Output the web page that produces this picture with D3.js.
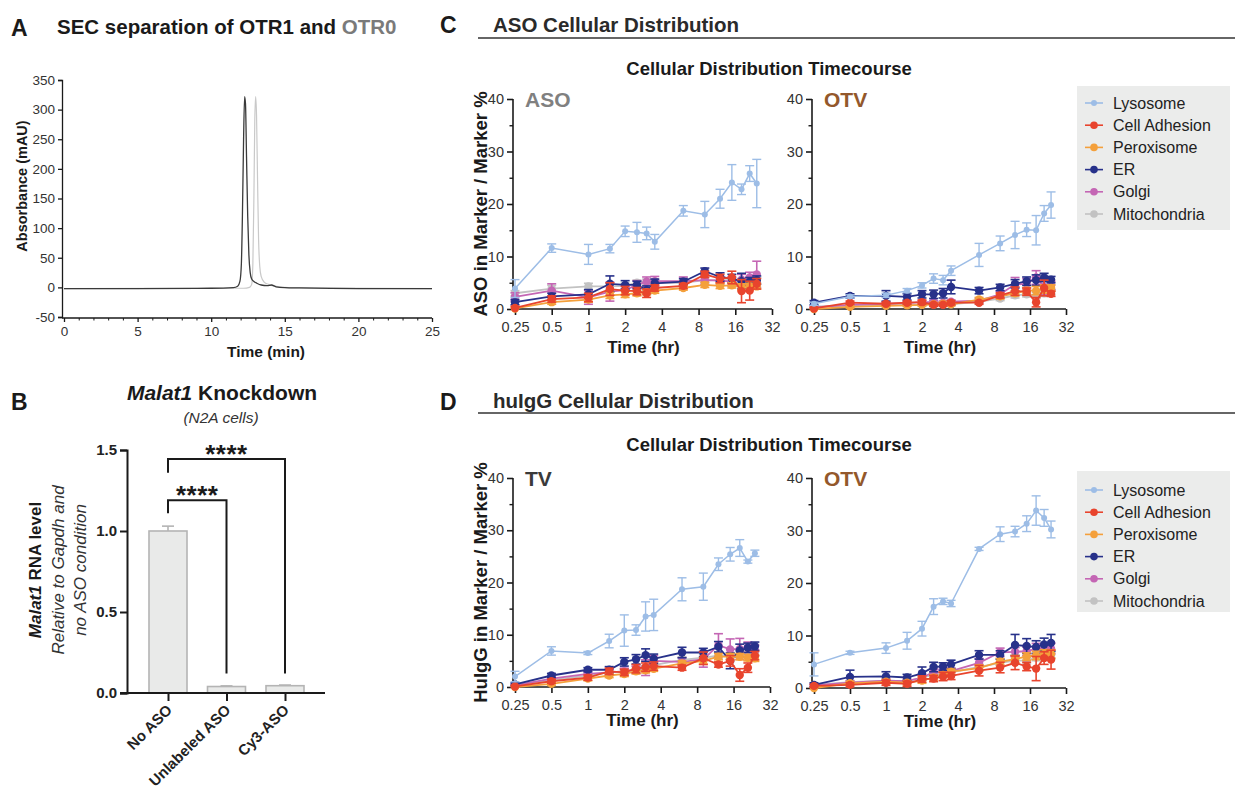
<!DOCTYPE html>
<html>
<head>
<meta charset="utf-8">
<script src="https://cdn.jsdelivr.net/npm/d3@7"></script>
<style>
  body { margin: 0; background: #fff; }
  svg { font-family: "Liberation Sans", Arial, Helvetica, sans-serif; }
</style>
</head>
<body>
<svg id="fig" width="1235" height="797"></svg>
<script>
// ---- panel A: SEC traces (time in min, absorbance in mAU)
const secTimeOTR1 = [0, 5, 10, 11.5, 11.8, 11.95, 12.05, 12.12, 12.2, 12.27, 12.33, 12.4, 12.48, 12.56, 12.65, 12.75, 12.9, 13.1, 13.4, 13.8, 14.1, 14.4, 15, 16, 20, 25];
const secAbsOTR1  = [-2, -2, -1.5, -0.5, 2, 10, 40, 120, 250, 322, 310, 220, 120, 55, 25, 14, 10, 7, 4, 3, 4, 1, -0.5, -1, -2, -2];
const secTimeOTR0 = [0, 10, 12.2, 12.6, 12.75, 12.83, 12.9, 12.96, 13.02, 13.08, 13.15, 13.22, 13.3, 13.4, 13.6, 13.9, 14.3, 15, 16, 25];
const secAbsOTR0  = [-2, -1.5, -1.5, 0, 5, 40, 150, 280, 322, 290, 180, 80, 35, 18, 9, 5, 2, 0, -1, -2];

// ---- panel B: Malat1 knockdown
const kdCats = ["No ASO", "Unlabeled ASO", "Cy3-ASO"];
const kdVals = [1.0, 0.04, 0.045];
const kdErr  = [0.03, 0.004, 0.004];

// ---- panels C / D: timecourse
const hours = [0.25, 0.5, 1, 1.5, 2, 2.5, 3, 3.5, 6, 9, 12, 15, 18, 21, 24];
const markerNames  = ["Lysosome", "Cell Adhesion", "Peroxisome", "ER", "Golgi", "Mitochondria"];
const markerColors = ["#9dbde6", "#e8442d", "#f4a03b", "#27318a", "#c466b4", "#c2c2c2"];

// C left: ASO
const asoLyso    = [3.9, 11.6, 10.4, 11.5, 14.8, 14.6, 14.4, 12.8, 18.7, 18.0, 21.0, 24.1, 22.8, 25.8, 23.9];
const asoLysoErr = [1.7, 0.8, 1.9, 0.8, 1.0, 1.9, 1.2, 1.4, 1.0, 2.5, 1.8, 3.4, 1.0, 1.5, 4.6];
const asoAdh     = [0.2, 1.9, 2.2, 3.8, 3.5, 3.4, 3.0, 4.0, 4.4, 6.6, 5.8, 6.0, 3.4, 3.5, 4.8];
const asoAdhErr  = [0.3, 0.6, 0.8, 1.2, 0.8, 0.7, 0.8, 0.6, 0.5, 0.6, 0.8, 1.2, 2.2, 1.8, 1.0];
const asoPer     = [0.1, 1.3, 1.8, 2.6, 2.8, 3.0, 3.2, 3.5, 4.0, 4.6, 4.4, 4.5, 4.2, 4.3, 4.3];
const asoPerErr  = [0.2, 0.4, 0.5, 0.6, 0.6, 0.5, 0.5, 0.5, 0.4, 0.5, 0.5, 0.5, 0.6, 0.6, 0.5];
const asoER      = [1.3, 2.4, 2.8, 4.8, 4.6, 4.6, 3.6, 4.9, 5.2, 7.2, 6.1, 5.8, 5.3, 5.2, 5.5];
const asoERErr   = [0.5, 0.6, 0.9, 1.5, 0.8, 0.7, 0.8, 0.8, 0.6, 0.6, 0.8, 0.8, 1.5, 0.8, 0.8];
const asoGol     = [2.3, 3.5, 2.2, 3.3, 3.6, 4.6, 5.2, 5.3, 5.3, 5.5, 5.4, 5.2, 5.6, 6.0, 6.6];
const asoGolErr  = [0.8, 1.3, 1.3, 1.8, 0.9, 0.8, 0.9, 0.9, 0.8, 0.8, 0.8, 0.9, 1.0, 1.0, 2.5];
const asoMit     = [3.0, 3.9, 4.3, 4.3, 4.4, 5.0, 5.2, 5.0, 5.0, 5.5, 5.5, 5.5, 5.3, 5.5, 5.5];
const asoMitErr  = [0.5, 0.6, 0.6, 0.6, 0.5, 0.5, 0.5, 0.5, 0.5, 0.5, 0.5, 0.5, 0.5, 0.5, 0.5];

// C right: OTV (ASO)
const otvaLyso    = [1.0, 2.4, 2.6, 3.5, 4.5, 5.8, 5.5, 7.3, 10.3, 12.5, 14.1, 15.1, 15.0, 18.2, 19.8];
const otvaLysoErr = [0.3, 0.3, 0.4, 0.4, 0.5, 0.9, 0.9, 0.9, 2.2, 1.4, 2.6, 1.3, 2.8, 1.5, 2.5];
const otvaAdh     = [0.1, 1.2, 1.0, 1.2, 1.3, 0.8, 0.8, 1.2, 1.2, 2.6, 3.4, 3.3, 1.3, 4.0, 2.9];
const otvaAdhErr  = [0.2, 0.3, 0.3, 0.3, 0.4, 0.3, 0.3, 0.4, 0.3, 0.5, 0.8, 0.7, 0.9, 1.5, 0.5];
const otvaPer     = [0.0, 0.4, 0.6, 0.7, 0.8, 0.9, 1.0, 0.9, 1.8, 2.4, 3.0, 3.5, 3.5, 3.8, 4.0];
const otvaPerErr  = [0.1, 0.2, 0.2, 0.2, 0.2, 0.2, 0.3, 0.3, 0.4, 0.5, 0.5, 0.6, 0.8, 0.8, 0.6];
const otvaER      = [1.2, 2.5, 2.5, 2.3, 2.8, 2.8, 3.0, 4.2, 3.5, 4.1, 4.8, 5.3, 5.5, 6.0, 5.6];
const otvaERErr   = [0.4, 0.4, 1.0, 0.6, 0.7, 0.8, 0.9, 1.3, 0.6, 0.6, 0.8, 0.8, 1.0, 0.8, 0.6];
const otvaGol     = [0.3, 0.8, 1.0, 1.1, 1.3, 1.3, 1.2, 1.4, 1.6, 2.8, 4.7, 4.8, 6.0, 4.2, 4.5];
const otvaGolErr  = [0.2, 0.3, 0.3, 0.3, 0.3, 0.3, 0.3, 0.3, 0.4, 0.6, 1.3, 1.0, 1.3, 1.5, 0.8];
const otvaMit     = [0.5, 0.6, 0.7, 0.8, 0.8, 0.9, 0.9, 0.9, 1.4, 2.0, 2.6, 2.8, 2.6, 3.0, 3.2];
const otvaMitErr  = [0.2, 0.2, 0.2, 0.2, 0.2, 0.2, 0.2, 0.2, 0.3, 0.4, 0.5, 0.5, 0.6, 0.6, 0.5];

// D left: TV (huIgG)
const tvLyso    = [2.0, 6.9, 6.5, 8.8, 10.8, 10.9, 13.5, 13.8, 18.7, 19.2, 23.5, 25.4, 26.6, 24.0, 25.6];
const tvLysoErr = [1.0, 0.8, 0.3, 1.3, 3.0, 1.0, 2.8, 3.0, 2.2, 2.6, 1.2, 1.3, 1.6, 0.3, 0.6];
const tvAdh     = [0.1, 1.1, 1.8, 3.0, 2.8, 3.5, 3.8, 4.0, 3.7, 5.5, 4.3, 5.0, 2.3, 3.7, 6.0];
const tvAdhErr  = [0.2, 0.4, 0.5, 0.6, 0.6, 0.8, 0.8, 0.8, 0.5, 1.2, 0.5, 1.0, 1.2, 0.9, 0.8];
const tvPer     = [0.0, 0.6, 1.6, 2.2, 2.5, 3.0, 3.2, 3.5, 4.5, 5.0, 5.8, 5.8, 5.8, 5.6, 5.5];
const tvPerErr  = [0.1, 0.3, 0.4, 0.4, 0.5, 0.5, 0.5, 0.5, 0.5, 0.6, 0.6, 0.6, 0.6, 0.6, 0.6];
const tvER      = [0.5, 2.2, 3.3, 3.3, 4.8, 5.3, 6.1, 5.4, 6.6, 6.6, 7.7, 5.0, 7.0, 7.5, 7.8];
const tvERErr   = [0.3, 0.4, 0.4, 0.6, 0.8, 0.9, 1.2, 0.9, 1.0, 0.8, 1.0, 1.5, 1.2, 0.9, 0.8];
const tvGol     = [0.3, 1.6, 2.5, 2.8, 3.0, 3.3, 3.7, 5.0, 4.8, 5.3, 8.0, 7.2, 7.3, 7.6, 7.0];
const tvGolErr  = [0.2, 0.4, 0.5, 0.6, 0.6, 0.7, 1.5, 1.0, 0.8, 1.5, 2.2, 2.0, 2.0, 1.0, 1.0];
const tvMit     = [0.4, 1.3, 2.2, 2.8, 3.0, 3.4, 3.6, 4.2, 5.2, 5.6, 6.0, 6.0, 6.3, 6.5, 6.5];
const tvMitErr  = [0.2, 0.4, 0.4, 0.5, 0.5, 0.5, 0.5, 0.5, 0.6, 0.6, 0.6, 0.6, 0.6, 0.6, 0.6];

// D right: OTV (huIgG)
const otvgLyso    = [4.5, 6.7, 7.6, 9.0, 11.3, 15.5, 16.5, 16.1, 26.5, 29.3, 29.8, 31.3, 33.8, 32.4, 30.2];
const otvgLysoErr = [2.2, 0.3, 1.0, 1.6, 1.4, 1.5, 0.6, 0.6, 0.3, 1.4, 1.0, 1.5, 2.8, 1.6, 1.6];
const otvgAdh     = [0.4, 0.6, 1.0, 0.8, 1.7, 1.8, 2.2, 2.3, 3.3, 3.9, 4.8, 4.1, 3.7, 5.7, 5.4];
const otvgAdhErr  = [0.3, 0.4, 0.5, 0.5, 0.6, 0.6, 0.8, 0.7, 1.0, 1.0, 1.3, 0.8, 2.3, 1.2, 1.8];
const otvgPer     = [0.0, 0.9, 1.2, 1.0, 1.4, 2.0, 2.5, 3.1, 3.8, 5.0, 5.5, 6.0, 6.2, 6.5, 6.5];
const otvgPerErr  = [0.1, 0.3, 0.4, 0.4, 0.5, 0.5, 0.5, 0.5, 0.6, 0.6, 0.7, 0.7, 0.8, 0.8, 0.8];
const otvgER      = [0.6, 2.1, 2.2, 2.0, 2.8, 4.0, 4.1, 4.5, 6.3, 6.3, 8.2, 8.0, 7.8, 8.3, 8.6];
const otvgERErr   = [0.4, 1.3, 0.9, 0.6, 1.2, 0.9, 0.7, 0.8, 0.8, 0.8, 2.0, 1.4, 1.2, 1.2, 1.6];
const otvgGol     = [0.5, 1.0, 1.4, 1.3, 2.0, 3.0, 3.0, 3.2, 4.8, 6.8, 6.9, 7.0, 7.5, 7.4, 7.5];
const otvgGolErr  = [0.2, 0.4, 0.5, 0.4, 0.5, 0.6, 0.6, 0.6, 0.8, 0.8, 0.8, 0.8, 1.0, 1.0, 1.0];
const otvgMit     = [0.6, 1.1, 1.4, 1.3, 2.0, 2.5, 2.8, 3.0, 4.0, 4.8, 5.2, 5.2, 5.8, 6.0, 6.2];
const otvgMitErr  = [0.2, 0.3, 0.3, 0.3, 0.4, 0.4, 0.5, 0.5, 0.5, 0.6, 0.6, 0.6, 0.6, 0.6, 0.6];

const svg = d3.select("#fig");
const ink = "#1a1a1a";

// panel letters
function letter(t, x, y) {
  svg.append("text").attr("x", x).attr("y", y).attr("font-size", 23).attr("font-weight", "bold").attr("fill", ink).text(t);
}
letter("A", 11, 36);
letter("B", 11, 410);
letter("C", 440, 33);
letter("D", 440, 410);

// ================= Panel A =================
(function () {
  const x = d3.scaleLinear().domain([0, 25]).range([64, 432]);
  const y = d3.scaleLinear().domain([-50, 350]).range([317, 80]);

  const t = svg.append("text").attr("x", 57).attr("y", 34).attr("font-size", 20.5).attr("font-weight", "bold").attr("fill", ink);
  t.append("tspan").text("SEC separation of OTR1 and ");
  t.append("tspan").attr("fill", "#7a7a7a").text("OTR0");

  const ya = svg.append("g").attr("transform", "translate(62,0)")
    .call(d3.axisLeft(y).tickValues(d3.range(-50, 351, 50)).tickFormat(d => String(d)).tickSize(4));
  ya.select(".domain").attr("stroke", ink).attr("stroke-width", 1.3);
  ya.selectAll(".tick line").attr("stroke", ink).attr("stroke-width", 1.3);
  ya.selectAll("text").attr("font-size", 13.5).attr("fill", "#333");

  const xa = svg.append("g").attr("transform", "translate(0,318)")
    .call(d3.axisBottom(x).tickValues(d3.range(0, 26, 5)).tickSize(4));
  xa.select(".domain").remove();
  xa.append("line").attr("x1", 62).attr("x2", 432).attr("stroke", ink).attr("stroke-width", 1.3);
  xa.selectAll(".tick line").attr("stroke", ink).attr("stroke-width", 1.3);
  xa.selectAll("text").attr("font-size", 13.5).attr("fill", "#333").attr("dy", "0.85em");
  svg.append("g").attr("transform", "translate(0,318)")
    .call(d3.axisBottom(x).tickValues(d3.range(0, 26, 1).filter(d => d % 5)).tickSize(2.5).tickFormat(""))
    .call(g => g.select(".domain").remove())
    .selectAll("line").attr("stroke", ink).attr("stroke-width", 1);

  svg.append("text").attr("x", 266).attr("y", 357).attr("text-anchor", "middle")
    .attr("font-size", 15.5).attr("font-weight", "bold").attr("fill", ink).text("Time (min)");
  svg.append("text").attr("transform", "translate(27,186) rotate(-90)").attr("text-anchor", "middle")
    .attr("font-size", 14.5).attr("font-weight", "bold").attr("fill", ink).text("Absorbance (mAU)");

  const line = d3.line().x(d => x(d[0])).y(d => y(d[1])).curve(d3.curveMonotoneX);
  svg.append("path").datum(d3.zip(secTimeOTR0, secAbsOTR0)).attr("d", line)
    .attr("fill", "none").attr("stroke", "#c9c9c9").attr("stroke-width", 1.2);
  svg.append("path").datum(d3.zip(secTimeOTR1, secAbsOTR1)).attr("d", line)
    .attr("fill", "none").attr("stroke", "#3a3a3a").attr("stroke-width", 1.3);
})();

// ================= Panel B =================
(function () {
  const y = d3.scaleLinear().domain([0, 1.5]).range([693, 450]);
  const x = d3.scalePoint().domain(kdCats).range([138.75, 314.25]).padding(0.5);
  const bw = 38;

  const t = svg.append("text").attr("x", 222).attr("y", 400).attr("text-anchor", "middle")
    .attr("font-size", 21).attr("font-weight", "bold").attr("fill", ink);
  t.append("tspan").attr("font-style", "italic").text("Malat1");
  t.append("tspan").text(" Knockdown");
  svg.append("text").attr("x", 221).attr("y", 423).attr("text-anchor", "middle")
    .attr("font-size", 15.5).attr("font-style", "italic").attr("fill", "#333").text("(N2A cells)");

  // bars
  svg.append("g").selectAll("rect").data(kdCats).join("rect")
    .attr("x", d => x(d) - bw / 2).attr("width", bw)
    .attr("y", (d, i) => y(kdVals[i])).attr("height", (d, i) => y(0) - y(kdVals[i]))
    .attr("fill", "#e9eae9").attr("stroke", "#b4b4b4").attr("stroke-width", 1.6);
  // error bars (upper only)
  const eb = svg.append("g").attr("stroke", "#b4b4b4").attr("stroke-width", 1.6);
  kdCats.forEach((c, i) => {
    eb.append("line").attr("x1", x(c)).attr("x2", x(c)).attr("y1", y(kdVals[i])).attr("y2", y(kdVals[i] + kdErr[i]));
    eb.append("line").attr("x1", x(c) - 6).attr("x2", x(c) + 6).attr("y1", y(kdVals[i] + kdErr[i])).attr("y2", y(kdVals[i] + kdErr[i]));
  });

  const ya = svg.append("g").attr("transform", "translate(127,0)")
    .call(d3.axisLeft(y).tickValues([0, 0.5, 1, 1.5]).tickFormat(d3.format(".1f")).tickSize(7));
  ya.select(".domain").attr("stroke", ink).attr("stroke-width", 2);
  ya.selectAll(".tick line").attr("stroke", ink).attr("stroke-width", 2);
  ya.selectAll("text").attr("font-size", 15).attr("font-weight", "bold").attr("fill", "#222");

  const xa = svg.append("g").attr("transform", "translate(0,693)")
    .call(d3.axisBottom(x).tickSize(8).tickFormat(""));
  xa.select(".domain").remove();
  xa.append("line").attr("x1", 120).attr("x2", 325).attr("stroke", ink).attr("stroke-width", 2);
  xa.selectAll(".tick line").attr("stroke", ink).attr("stroke-width", 2);
  svg.append("g").selectAll("text").data(kdCats).join("text")
    .attr("transform", d => `translate(${x(d) + 5},${711}) rotate(-45)`)
    .attr("text-anchor", "end").attr("font-size", 15).attr("font-weight", "bold").attr("fill", "#222")
    .text(d => d);

  // y title (3 lines)
  const cy = 570;
  const l1 = svg.append("text").attr("transform", `translate(41,${cy}) rotate(-90)`).attr("text-anchor", "middle")
    .attr("font-size", 17).attr("font-weight", "bold").attr("fill", ink);
  l1.append("tspan").attr("font-style", "italic").text("Malat1");
  l1.append("tspan").text(" RNA level");
  svg.append("text").attr("transform", `translate(64,${cy}) rotate(-90)`).attr("text-anchor", "middle")
    .attr("font-size", 17).attr("font-style", "italic").attr("fill", "#333").text("Relative to Gapdh and");
  svg.append("text").attr("transform", `translate(86,${cy}) rotate(-90)`).attr("text-anchor", "middle")
    .attr("font-size", 17).attr("font-style", "italic").attr("fill", "#333").text("no ASO condition");

  // significance brackets
  const brackets = [
    { a: 0, b: 1, top: 1.19, leftEnd: 1.11, rightEnd: 0.12, label: "****" },
    { a: 0, b: 2, top: 1.445, leftEnd: 1.36, rightEnd: 0.12, label: "****" }
  ];
  brackets.forEach(br => {
    const xa_ = x(kdCats[br.a]), xb_ = x(kdCats[br.b]);
    svg.append("path")
      .attr("d", `M${xa_},${y(br.leftEnd)}V${y(br.top)}H${xb_}V${y(br.rightEnd)}`)
      .attr("fill", "none").attr("stroke", ink).attr("stroke-width", 2);
    svg.append("text").attr("x", (xa_ + xb_) / 2).attr("y", y(br.top) + 4)
      .attr("text-anchor", "middle").attr("font-size", 26).attr("font-weight", "bold")
      .attr("letter-spacing", 0.5).attr("fill", ink).text(br.label);
  });
})();

// ================= Panels C / D =================
function header(title, yTitle, yLine, ySub) {
  svg.append("text").attr("x", 493).attr("y", yTitle).attr("font-size", 20.5).attr("font-weight", "bold").attr("fill", "#2a2a2a").text(title);
  svg.append("line").attr("x1", 478).attr("x2", 1235).attr("y1", yLine).attr("y2", yLine).attr("stroke", "#333").attr("stroke-width", 1.3);
  svg.append("text").attr("x", 769).attr("y", ySub).attr("text-anchor", "middle").attr("font-size", 18.5).attr("font-weight", "bold").attr("fill", ink).text("Cellular Distribution Timecourse");
}
header("ASO Cellular Distribution", 32, 38, 75);
header("huIgG Cellular Distribution", 408, 413, 451);

function drawTimecourse(o) {
  const x = d3.scaleLog().base(2).domain([0.25, 32]).range([o.x0, o.x1]);
  const y = d3.scaleLinear().domain([0, 40]).range([o.yb, o.yt]);
  const g = svg.append("g");
  const ax = o.x0 - 2;

  // y axis
  const ya = g.append("g").attr("transform", `translate(${ax},0)`)
    .call(d3.axisLeft(y).tickValues([0, 10, 20, 30, 40]).tickSize(6));
  ya.select(".domain").remove();
  ya.append("line").attr("y1", y(0)).attr("y2", y(40)).attr("stroke", ink).attr("stroke-width", 1.6);
  ya.selectAll(".tick line").attr("stroke", ink).attr("stroke-width", 1.6);
  ya.selectAll("text").attr("font-size", 14.5).attr("fill", "#333");
  g.append("g").attr("transform", `translate(${ax},0)`)
    .call(d3.axisLeft(y).tickValues([5, 15, 25, 35]).tickSize(3.5).tickFormat(""))
    .call(s => s.select(".domain").remove())
    .selectAll("line").attr("stroke", ink).attr("stroke-width", 1.4);

  // x axis
  const xa = g.append("g").attr("transform", `translate(0,${o.yb})`)
    .call(d3.axisBottom(x).tickValues([0.25, 0.5, 1, 2, 4, 8, 16, 32]).tickFormat(d => d).tickSize(6));
  xa.select(".domain").remove();
  xa.append("line").attr("x1", ax).attr("x2", o.x1).attr("stroke", ink).attr("stroke-width", 1.6);
  xa.selectAll(".tick line").attr("stroke", ink).attr("stroke-width", 1.6);
  xa.selectAll("text").attr("font-size", 14.5).attr("fill", "#333").attr("dy", "0.95em");

  g.append("text").attr("x", (o.x0 + o.x1) / 2).attr("y", o.yb + o.titleGap).attr("text-anchor", "middle")
    .attr("font-size", 17).attr("font-weight", "bold").attr("fill", ink).text("Time (hr)");
  if (o.ytitle) {
    g.append("text").attr("transform", `translate(487,${(o.yt + o.yb) / 2}) rotate(-90)`).attr("text-anchor", "middle")
      .attr("font-size", 18.5).attr("font-weight", "bold").attr("fill", ink).text(o.ytitle);
  }
  g.append("text").attr("x", ax + 12).attr("y", o.yt + 8).attr("font-size", 21).attr("font-weight", "bold")
    .attr("fill", o.labelColor).text(o.label);

  // series: draw order back to front
  const order = [5, 4, 3, 2, 1, 0];
  order.forEach(k => {
    const vals = o.vals[k], errs = o.errs[k], col = markerColors[k];
    const isLyso = k === 0;
    const pts = hours.map((h, i) => ({ h, v: vals[i], e: errs[i] }));
    const s = g.append("g");
    const eg = s.append("g").attr("stroke", col).attr("stroke-width", isLyso ? 1.4 : 1.6);
    pts.forEach(p => {
      const cx = x(p.h);
      eg.append("line").attr("x1", cx).attr("x2", cx).attr("y1", y(Math.max(0, p.v - p.e))).attr("y2", y(p.v + p.e));
      eg.append("line").attr("x1", cx - 4.5).attr("x2", cx + 4.5).attr("y1", y(p.v + p.e)).attr("y2", y(p.v + p.e));
      if (p.v - p.e > 0)
        eg.append("line").attr("x1", cx - 4.5).attr("x2", cx + 4.5).attr("y1", y(p.v - p.e)).attr("y2", y(p.v - p.e));
    });
    s.append("path").datum(pts)
      .attr("d", d3.line().x(p => x(p.h)).y(p => y(p.v)))
      .attr("fill", "none").attr("stroke", col).attr("stroke-width", isLyso ? 1.5 : 1.8);
    s.selectAll("circle").data(pts).join("circle")
      .attr("cx", p => x(p.h)).attr("cy", p => y(p.v)).attr("r", isLyso ? 3 : 4.2).attr("fill", col);
  });
}

function legend(x0, y0, y1, yFirst, step) {
  const g = svg.append("g");
  g.append("rect").attr("x", x0).attr("y", y0).attr("width", 1230 - x0).attr("height", y1 - y0).attr("fill", "#ebeceb");
  markerNames.forEach((n, i) => {
    const yy = yFirst + i * step;
    g.append("line").attr("x1", x0 + 8).attr("x2", x0 + 26).attr("y1", yy).attr("y2", yy)
      .attr("stroke", markerColors[i]).attr("stroke-width", 1.6);
    g.append("circle").attr("cx", x0 + 17).attr("cy", yy).attr("r", i === 0 ? 3 : 3.8).attr("fill", markerColors[i]);
    g.append("text").attr("x", x0 + 36).attr("y", yy + 5.5).attr("font-size", 16).attr("fill", "#222").text(n);
  });
}

drawTimecourse({
  x0: 515, x1: 772, yt: 99, yb: 309, label: "ASO", labelColor: "#808080", titleGap: 44,
  ytitle: "ASO in Marker / Marker %",
  vals: [asoLyso, asoAdh, asoPer, asoER, asoGol, asoMit],
  errs: [asoLysoErr, asoAdhErr, asoPerErr, asoERErr, asoGolErr, asoMitErr]
});
drawTimecourse({
  x0: 814, x1: 1066, yt: 99, yb: 309, label: "OTV", labelColor: "#93582b", titleGap: 44,
  vals: [otvaLyso, otvaAdh, otvaPer, otvaER, otvaGol, otvaMit],
  errs: [otvaLysoErr, otvaAdhErr, otvaPerErr, otvaERErr, otvaGolErr, otvaMitErr]
});
drawTimecourse({
  x0: 515, x1: 770, yt: 478, yb: 687, label: "TV", labelColor: "#3a3a3a", titleGap: 39,
  ytitle: "HuIgG in Marker / Marker %",
  vals: [tvLyso, tvAdh, tvPer, tvER, tvGol, tvMit],
  errs: [tvLysoErr, tvAdhErr, tvPerErr, tvERErr, tvGolErr, tvMitErr]
});
drawTimecourse({
  x0: 814, x1: 1066, yt: 478, yb: 688, label: "OTV", labelColor: "#93582b", titleGap: 39,
  vals: [otvgLyso, otvgAdh, otvgPer, otvgER, otvgGol, otvgMit],
  errs: [otvgLysoErr, otvgAdhErr, otvgPerErr, otvgERErr, otvgGolErr, otvgMitErr]
});
legend(1077, 86, 230, 103, 22.2);
legend(1077, 471, 612, 490, 22.2);
</script>
</body>
</html>
